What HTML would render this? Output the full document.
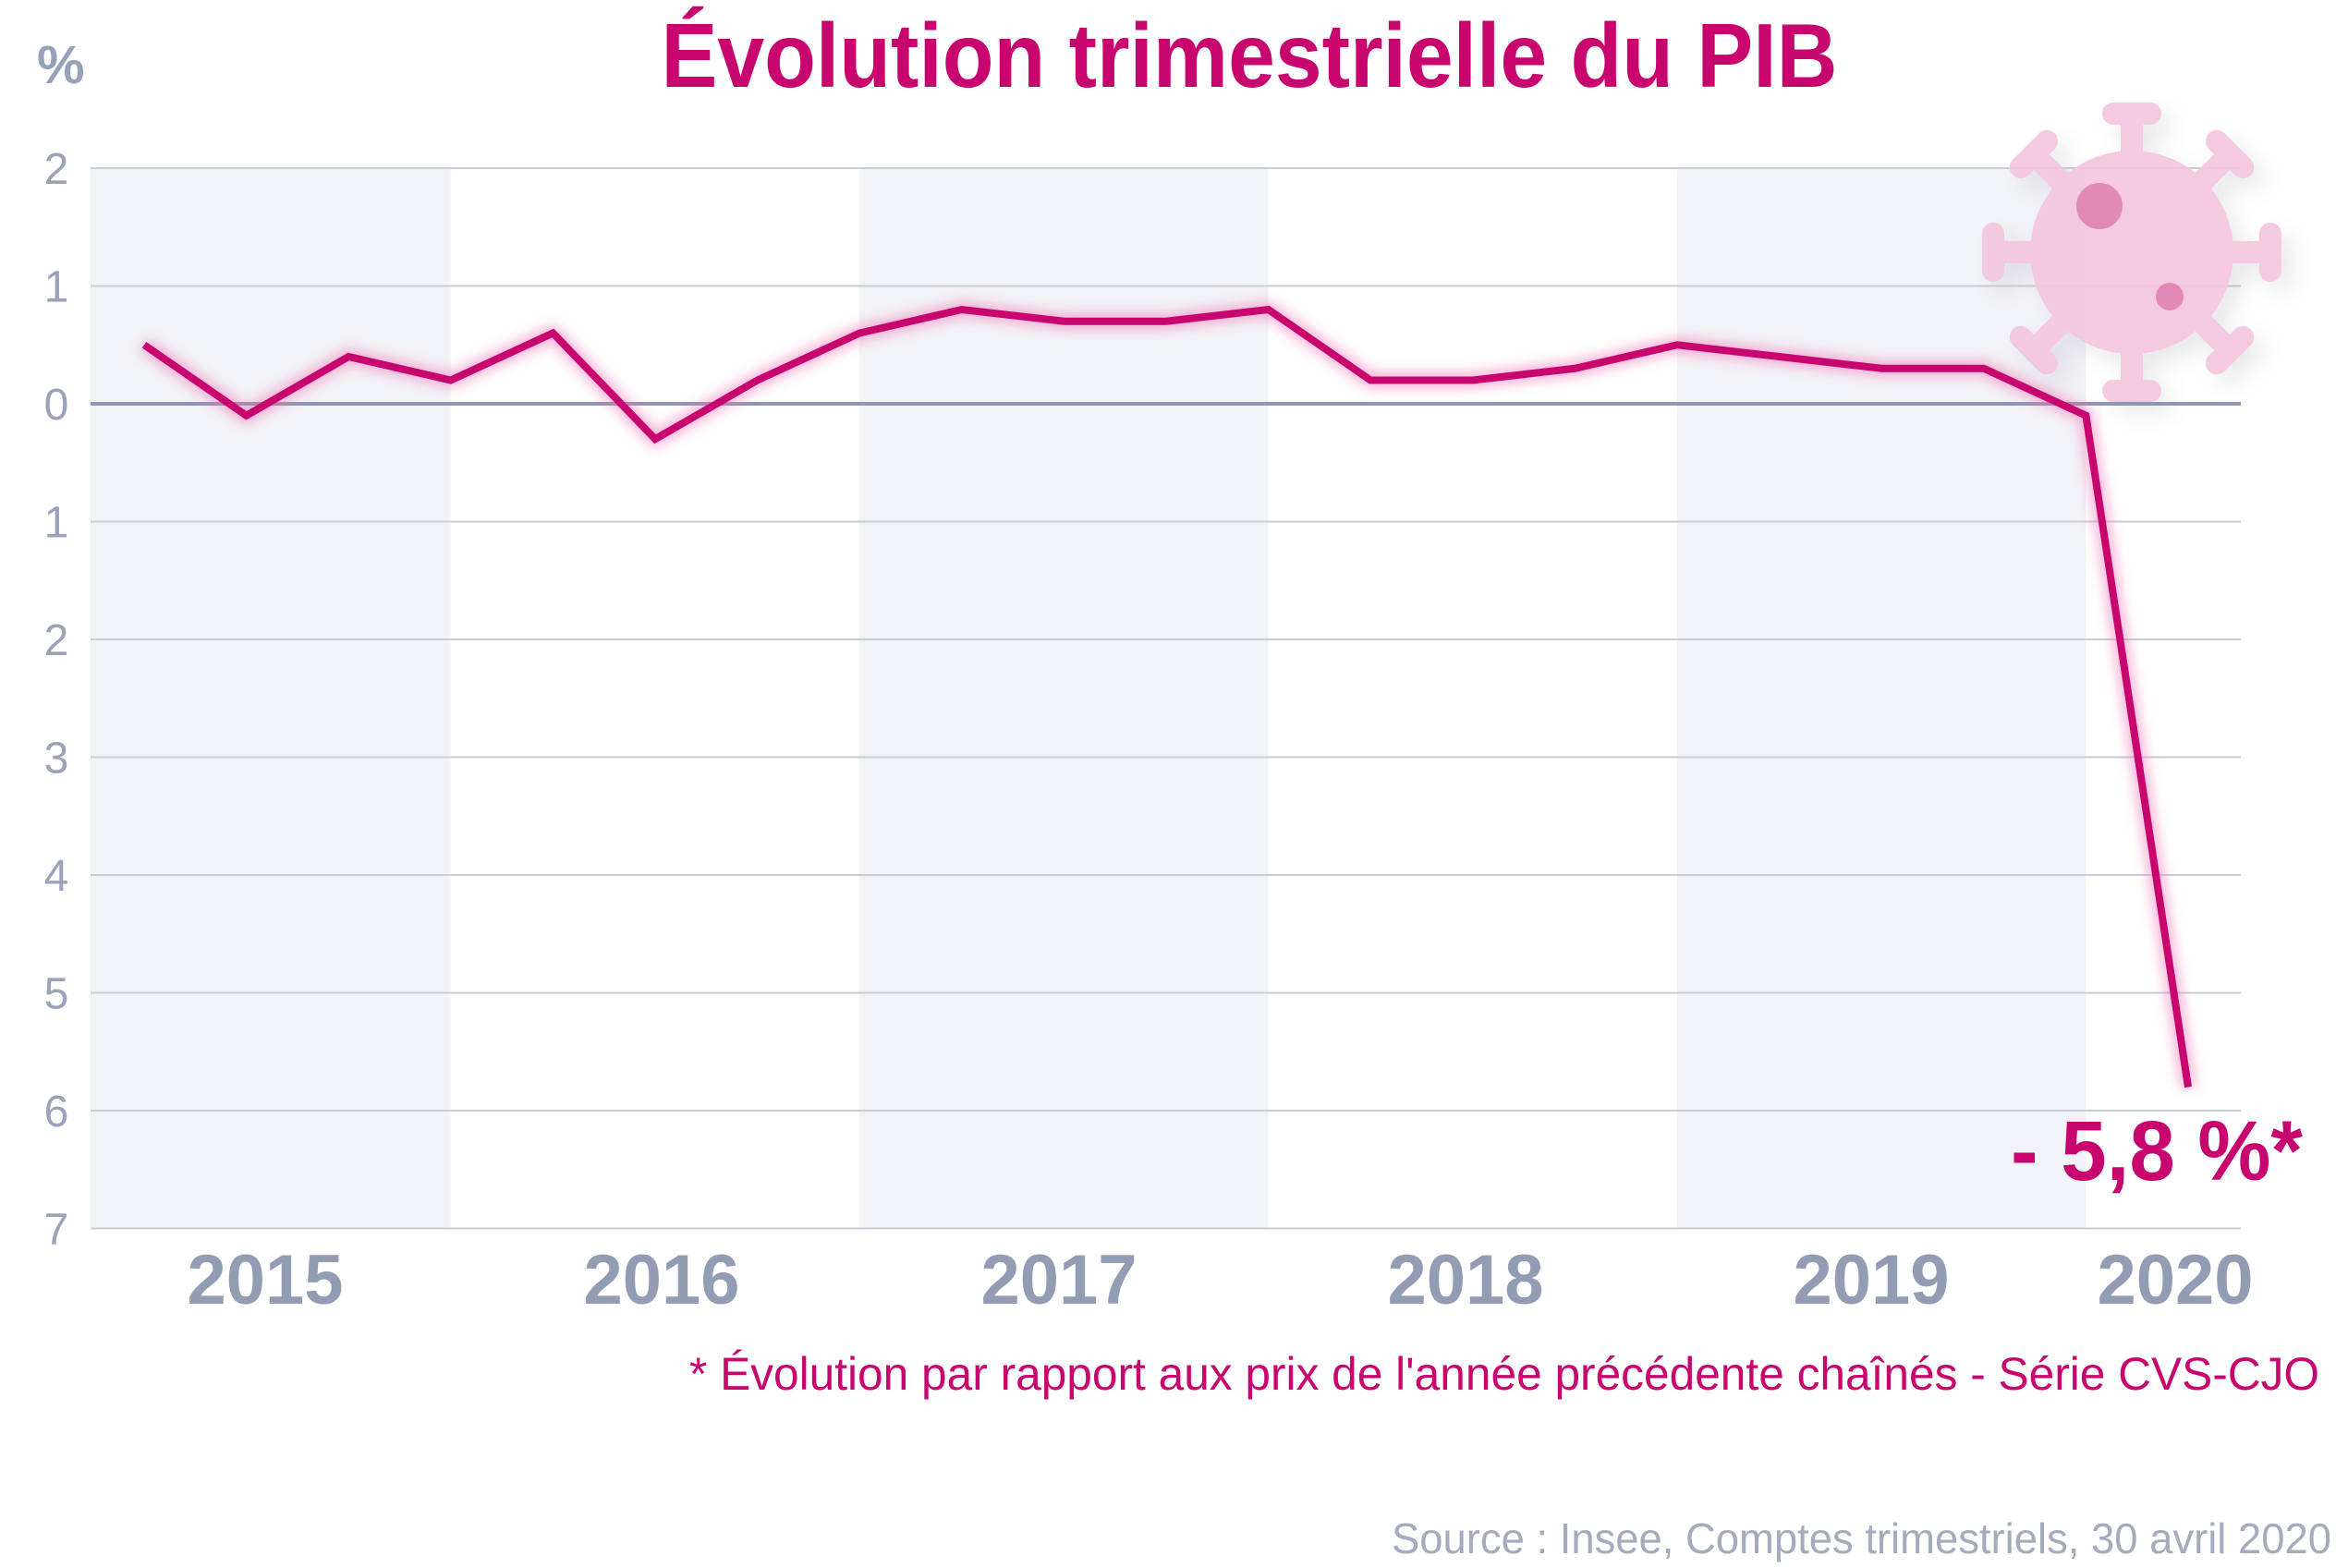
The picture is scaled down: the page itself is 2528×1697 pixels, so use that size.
<!DOCTYPE html>
<html><head><meta charset="utf-8"><style>
html,body{margin:0;padding:0;background:#fff;}
svg{display:block;font-family:"Liberation Sans",sans-serif;}
</style></head><body>
<svg id="chart" width="2528" height="1697" viewBox="0 0 2528 1697">
<defs>
<filter id="glow" x="-10%" y="-10%" width="120%" height="120%"><feGaussianBlur stdDeviation="7"/></filter>
<filter id="vshadow" x="-30%" y="-30%" width="160%" height="160%"><feGaussianBlur stdDeviation="12"/></filter>
</defs>
<g id="bands"></g>
<g id="grid"></g>
<g id="virus" opacity="0.92"></g>
<g id="series"></g>
<g id="labels"></g>
<text x="1352" y="94" text-anchor="middle" font-size="98" font-weight="bold" fill="#c8046e" textLength="1273" lengthAdjust="spacingAndGlyphs">Évolution trimestrielle du PIB</text>
<text x="40" y="90" font-size="58" font-weight="bold" fill="#97a1b8">%</text>
<text x="2492" y="1277" text-anchor="end" font-size="92" font-weight="bold" fill="#c8046e" textLength="316" lengthAdjust="spacingAndGlyphs">- 5,8 %*</text>
<text x="2510" y="1504" text-anchor="end" font-size="50" fill="#c8046e" textLength="1764" lengthAdjust="spacingAndGlyphs">* Évolution par rapport aux prix de l'année précédente chaînés - Série CVS-CJO</text>
<text x="2523" y="1681" text-anchor="end" font-size="46" fill="#a3abbd" textLength="1017" lengthAdjust="spacingAndGlyphs">Source : Insee, Comptes trimestriels, 30 avril 2020</text>
</svg>
<script>
const values = [0.5,-0.1,0.4,0.2, 0.6,-0.3,0.2,0.6, 0.8,0.7,0.7,0.8, 0.2,0.2,0.3,0.5, 0.4,0.3,0.3,-0.1, -5.8];
const yTicks = [2,1,0,-1,-2,-3,-4,-5,-6,-7];
const yTickLabels = ["2","1","0","1","2","3","4","5","6","7"];
const years = ["2015","2016","2017","2018","2019","2020"];
const yearQuarterStart = [0,4,8,12,16,20];

const NS="http://www.w3.org/2000/svg";
const X0=156, DX=110.6, Y0=437, DY=127.5, L=98, R=2425;
const xq = i => X0 + i*DX;
const yv = v => Y0 - v*DY;
function mk(tag, attrs, parent){const e=document.createElementNS(NS,tag);for(const k in attrs)e.setAttribute(k,attrs[k]);parent.appendChild(e);return e;}

const bands=document.getElementById('bands');
years.forEach((y,i)=>{
  const s = i===0 ? L : xq(yearQuarterStart[i]-1);
  const e = i===years.length-1 ? R : xq(yearQuarterStart[i+1]-1);
  const r=mk('rect',{x:s,y:yv(2),width:e-s,height:yv(-7)-yv(2),fill:i%2===0?'#f2f3f6':'#ffffff'},bands);
  
  
});
const grid=document.getElementById('grid'), labels=document.getElementById('labels');
yTicks.forEach((t,i)=>{
  const l=mk('line',{x1:L,x2:R,y1:yv(t),y2:yv(t),stroke:t===0?'#8e98ae':'#c8ccd8','stroke-width':t===0?4:2},grid);
  
  
  const tx=mk('text',{x:61,y:yv(t)+17,'text-anchor':'middle','font-size':48,fill:'#9aa3b8'},labels);
  tx.textContent=yTickLabels[i];
  
  
});
const yearCenters=[287,716,1146,1586,2025,2354];
years.forEach((y,i)=>{
  const tx=mk('text',{x:yearCenters[i],y:1411,'text-anchor':'middle','font-size':76,'font-weight':'bold',fill:'#929cb3'},labels);
  tx.textContent=y;
  
  
});
const v=document.getElementById('virus');
const cx=2307, cy=273;
function virus(g,fill){
  for(let k=0;k<8;k++){
    const gg=mk('g',{transform:`translate(${cx},${cy}) rotate(${k*45})`},g);
    mk('rect',{x:-12,y:-150,width:24,height:60,fill:fill},gg);
    mk('rect',{x:-32,y:-162,width:64,height:24,rx:12,fill:fill},gg);
  }
  mk('circle',{cx:cx,cy:cy,r:110,fill:fill},g);
}
const sh=mk('g',{filter:'url(#vshadow)',opacity:0.25,transform:'translate(12,12)'},v);
virus(sh,'#a0a0a8');
const vg=mk('g',{},v);
virus(vg,'#f3c6de');
mk('circle',{cx:2272,cy:223,r:25,fill:'#e07fb1'},v);
mk('circle',{cx:2348,cy:321,r:15,fill:'#e07fb1'},v);
const s=document.getElementById('series');
const pts=values.map((val,i)=>xq(i)+','+yv(val)).join(' ');
const glow=mk('polyline',{points:pts,fill:'none',stroke:'#f06bb0','stroke-width':16,opacity:0.55,filter:'url(#glow)','stroke-linejoin':'round'},s);


const line=mk('polyline',{points:pts,fill:'none',stroke:'#c8046e','stroke-width':8,'stroke-linejoin':'miter'},s);


</script>
</body></html>
